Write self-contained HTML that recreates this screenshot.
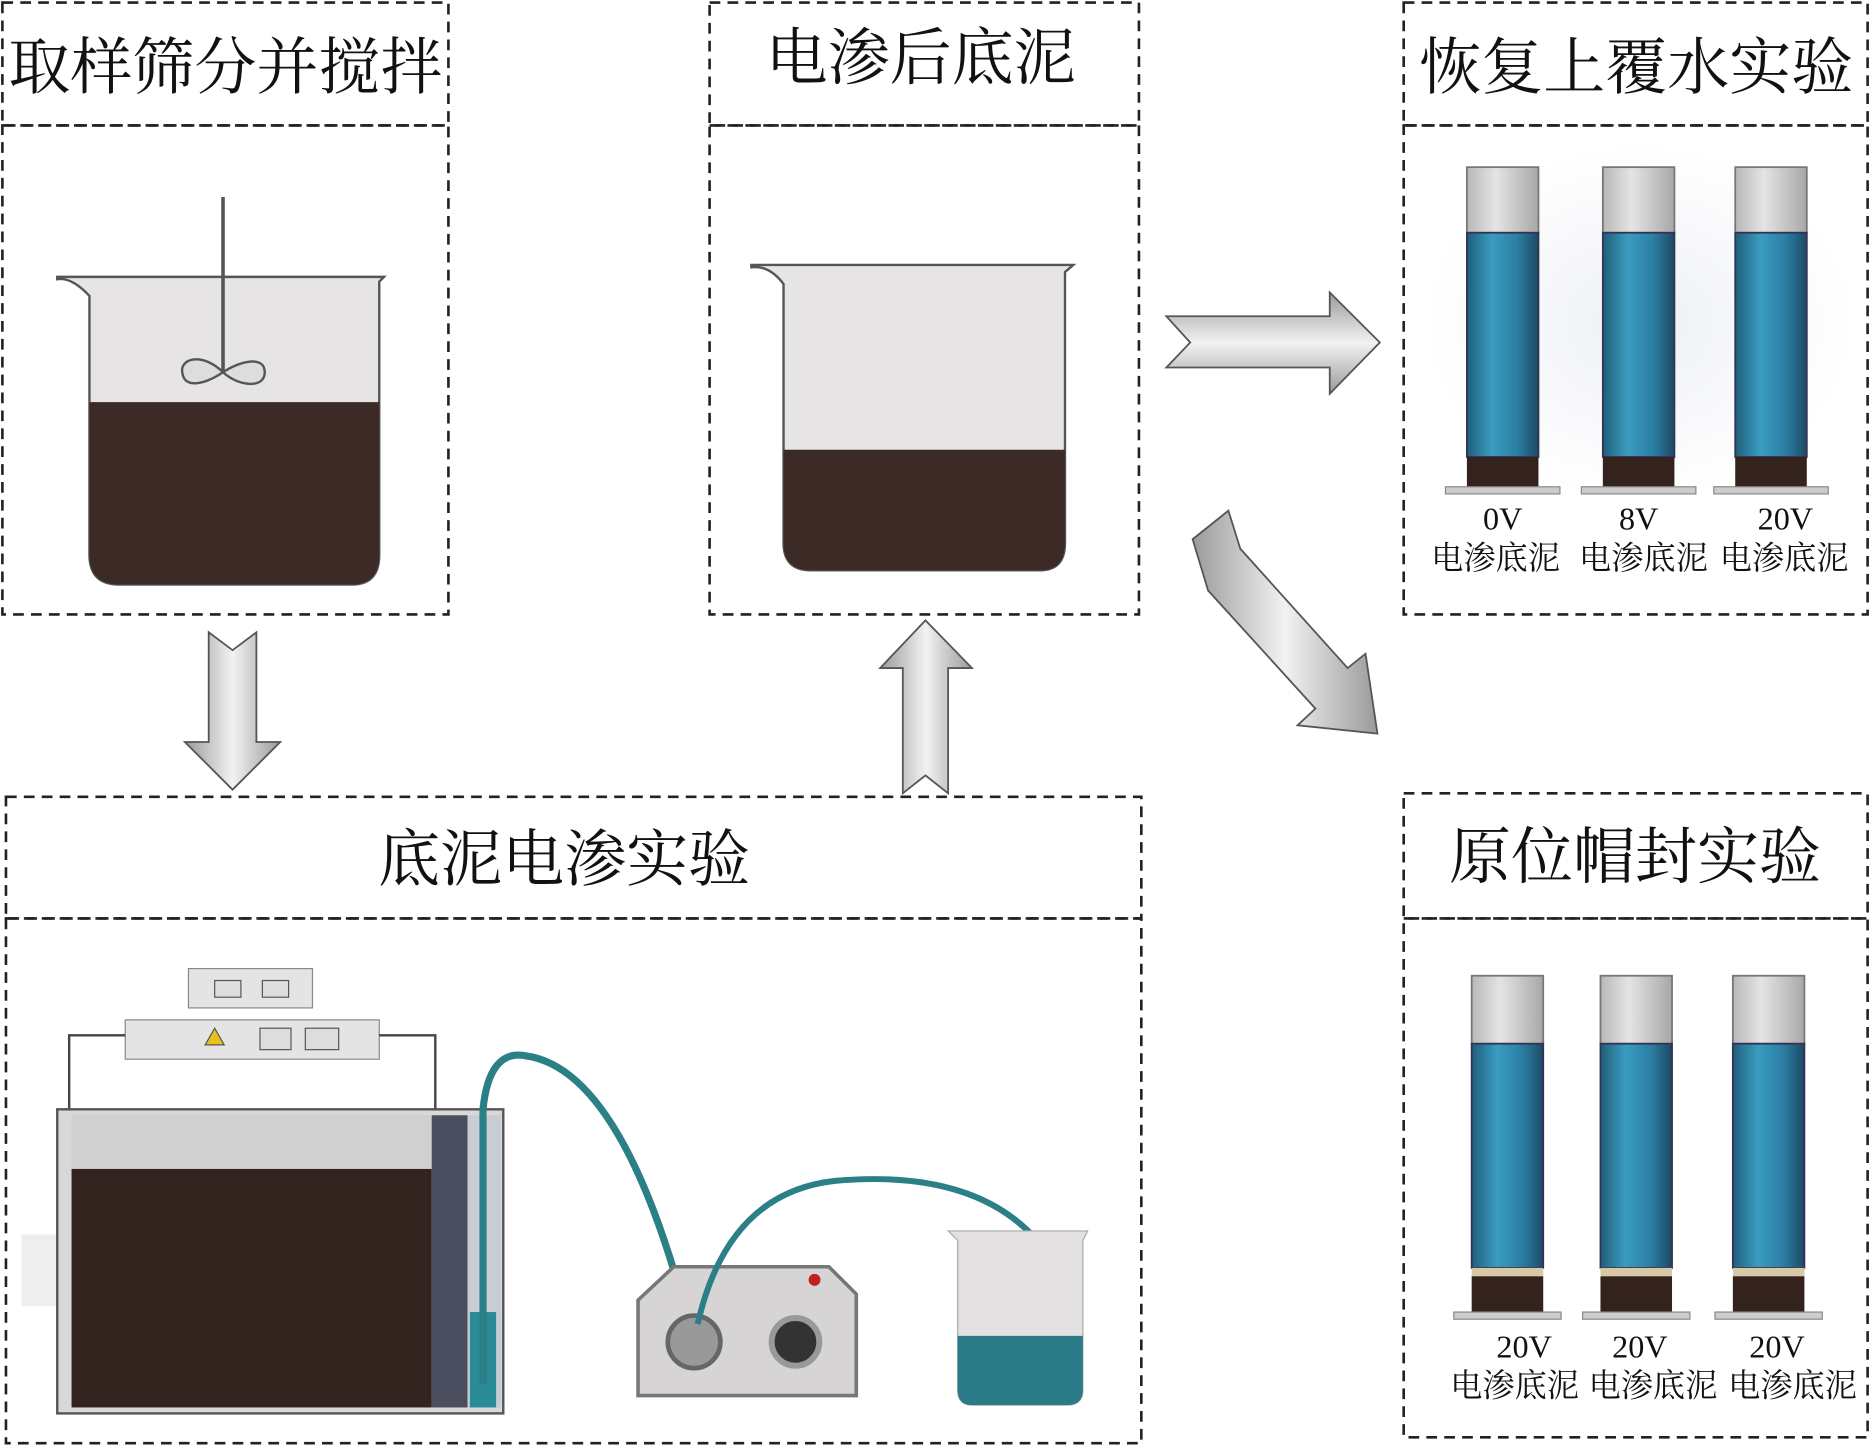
<!DOCTYPE html>
<html><head><meta charset="utf-8"><style>
html,body{margin:0;padding:0;background:#fff;}
svg{display:block;}
text{font-family:"Liberation Serif","Noto Serif CJK SC","Noto Sans CJK SC",serif;fill:#111;}
</style></head><body>
<svg width="1870" height="1447" viewBox="0 0 1568 1213" xmlns="http://www.w3.org/2000/svg">
<defs>
<linearGradient id="ag" x1="0" y1="0" x2="1" y2="0"><stop offset="0" stop-color="#9a9a9a"/><stop offset="0.5" stop-color="#f2f2f2"/><stop offset="1" stop-color="#9a9a9a"/></linearGradient>
<linearGradient id="agv" x1="0" y1="0" x2="0" y2="1"><stop offset="0" stop-color="#9a9a9a"/><stop offset="0.5" stop-color="#f2f2f2"/><stop offset="1" stop-color="#9a9a9a"/></linearGradient>
<linearGradient id="blue" x1="0" y1="0" x2="1" y2="0"><stop offset="0" stop-color="#1f5f7a"/><stop offset="0.35" stop-color="#3a9cc0"/><stop offset="0.7" stop-color="#2b7fa3"/><stop offset="1" stop-color="#1d4a66"/></linearGradient>
<linearGradient id="gray" x1="0" y1="0" x2="1" y2="0"><stop offset="0" stop-color="#b8b8b8"/><stop offset="0.4" stop-color="#e4e4e4"/><stop offset="1" stop-color="#a8a8a8"/></linearGradient>
<radialGradient id="glow" cx="0.5" cy="0.5" r="0.5"><stop offset="0" stop-color="#eef0f5"/><stop offset="1" stop-color="#fff"/></radialGradient>
<g id="tube">
<rect x="-30" y="0" width="60" height="55" fill="url(#gray)" stroke="#777" stroke-width="1.5"/>
<rect x="-30" y="55" width="60" height="188" fill="url(#blue)" stroke="#335" stroke-width="1.5"/>
<rect x="-30" y="243" width="60" height="25" fill="#33231c"/>
<rect x="-48" y="268" width="96" height="6" fill="#ccc" stroke="#888"/>
</g>
<g id="tube2">
<rect x="-30" y="0" width="60" height="57" fill="url(#gray)" stroke="#777" stroke-width="1.5"/>
<rect x="-30" y="57" width="60" height="188" fill="url(#blue)" stroke="#335" stroke-width="1.5"/>
<rect x="-30" y="245" width="60" height="7" fill="#d8c9a6"/>
<rect x="-30" y="252" width="60" height="30" fill="#33231c"/>
<rect x="-45" y="282" width="90" height="6" fill="#ccc" stroke="#888"/>
</g>
</defs>
<g fill="none" stroke="#222" stroke-width="2.2" stroke-dasharray="9,6">
<rect x="2" y="2" width="374" height="103"/><rect x="2" y="105" width="374" height="410"/>
<rect x="595" y="2" width="360" height="103"/><rect x="595" y="105" width="360" height="410"/>
<rect x="1177" y="2" width="389" height="103"/><rect x="1177" y="105" width="389" height="410"/>
<rect x="5" y="668" width="952" height="102"/><rect x="5" y="770" width="952" height="440"/>
<rect x="1177" y="665" width="389" height="105"/><rect x="1177" y="770" width="389" height="435"/>
</g>
<g font-size="52" text-anchor="middle">
<text x="189" y="74">取样筛分并搅拌</text>
<text x="772" y="66">电渗后底泥</text>
<text x="1372" y="74">恢复上覆水实验</text>
<text x="473" y="738">底泥电渗实验</text>
<text x="1371" y="736">原位帽封实验</text>
</g>
<!-- arrows -->
<polygon points="175,530 195,545 215,530 215,622 235,622 195,662 155,622 175,622" fill="url(#ag)" stroke="#555" stroke-width="1.5"/>
<polygon points="776,520 815,560 795,560 795,665 776,650 757,665 757,560 738,560" fill="url(#ag)" stroke="#555" stroke-width="1.5"/>
<polygon points="978,265 1115,265 1115,245 1157,287 1115,330 1115,308 978,308 998,287" fill="url(#agv)" stroke="#555" stroke-width="1.5"/>
<polygon points="1000,452 1030,428 1040,460 1130,560 1145,548 1155,615 1088,608 1103,594 1013,495" fill="url(#ag)" stroke="#555" stroke-width="1.5"/>
<!-- beaker 1 -->
<path d="M48,234 Q60,232 75,248 L75,465 Q75,490 100,490 L295,490 Q318,490 318,465 L318,236 L322,232 L48,232 Z" fill="#e6e4e4" stroke="#555" stroke-width="2"/>
<path d="M75,337 L318,337 L318,465 Q318,490 295,490 L100,490 Q75,490 75,465 Z" fill="#3b2a26"/>
<line x1="187" y1="165" x2="187" y2="312" stroke="#555" stroke-width="3"/>
<path d="M187,312 C170,295 150,300 153,313 C155,326 172,322 187,312 C202,302 222,298 222,312 C222,326 200,324 187,312Z" fill="#ddd" stroke="#555" stroke-width="2"/>
<!-- beaker 2 -->
<path d="M630,224 Q645,222 657,238 L657,455 Q657,478 680,478 L872,478 Q893,478 893,455 L893,228 L900,222 L630,222 Z" fill="#e6e4e4" stroke="#555" stroke-width="2"/>
<path d="M657,377 L893,377 L893,455 Q893,478 872,478 L680,478 Q657,478 657,455 Z" fill="#3b2a26"/>
<!-- tubes top -->
<rect x="1195" y="120" width="360" height="300" fill="url(#glow)"/>
<use href="#tube" x="1260" y="140"/><use href="#tube" x="1374" y="140"/><use href="#tube" x="1485" y="140"/>
<g font-size="27" text-anchor="middle">
<text x="1260" y="444">0V</text><text x="1374" y="444">8V</text><text x="1497" y="444">20V</text>
<text x="1254" y="477">电渗底泥</text><text x="1378" y="477">电渗底泥</text><text x="1496" y="477">电渗底泥</text>
</g>
<!-- tubes bottom -->
<use href="#tube2" x="1264" y="818"/><use href="#tube2" x="1372" y="818"/><use href="#tube2" x="1483" y="818"/>
<g font-size="27" text-anchor="middle">
<text x="1278" y="1138">20V</text><text x="1375" y="1138">20V</text><text x="1490" y="1138">20V</text>
<text x="1270" y="1171">电渗底泥</text><text x="1386" y="1171">电渗底泥</text><text x="1503" y="1171">电渗底泥</text>
</g>
<!-- power supply -->
<rect x="158" y="812" width="104" height="33" fill="#e4e4e4" stroke="#888"/>
<rect x="180" y="822" width="22" height="14" fill="#ddd" stroke="#555"/><rect x="220" y="822" width="22" height="14" fill="#ddd" stroke="#555"/>
<rect x="105" y="855" width="213" height="33" fill="#e4e4e4" stroke="#888"/>
<polygon points="180,862 188,876 172,876" fill="#e8c020" stroke="#555"/>
<rect x="218" y="862" width="26" height="18" fill="#ddd" stroke="#555"/><rect x="256" y="862" width="28" height="18" fill="#ddd" stroke="#555"/>
<polyline points="105,868 58,868 58,932" fill="none" stroke="#444" stroke-width="2"/>
<polyline points="318,868 365,868 365,932" fill="none" stroke="#444" stroke-width="2"/>
<!-- tank -->
<rect x="18" y="1035" width="30" height="60" fill="#eee"/>
<rect x="48" y="930" width="374" height="255" fill="#d8d8d8" stroke="#555" stroke-width="2"/>
<rect x="60" y="935" width="302" height="45" fill="#d0d0d0"/>
<rect x="60" y="980" width="302" height="200" fill="#33231e"/>
<rect x="362" y="935" width="30" height="245" fill="#4a4e5e"/>
<rect x="392" y="935" width="28" height="245" fill="#c8ccd4"/>
<rect x="394" y="1100" width="22" height="80" fill="#2a8a95"/>
<path d="M405,1160 L405,930 Q410,880 440,885 Q520,895 575,1100" fill="none" stroke="#2b7f86" stroke-width="6"/>
<!-- pump -->
<path d="M535,1170 L535,1090 L565,1062 L695,1062 L718,1085 L718,1170 Z" fill="#d6d4d4" stroke="#777" stroke-width="3"/>
<circle cx="582" cy="1125" r="22" fill="#999" stroke="#666" stroke-width="4"/>
<circle cx="667" cy="1125" r="20" fill="#333" stroke="#999" stroke-width="5"/>
<circle cx="683" cy="1073" r="5" fill="#c02020"/>
<path d="M585,1110 Q610,1000 700,990 Q870,975 905,1110" fill="none" stroke="#2b7f86" stroke-width="5"/>
<!-- beaker 3 -->
<path d="M795,1032 L912,1032 L908,1040 L908,1165 Q908,1178 895,1178 L815,1178 Q803,1178 803,1165 L803,1040 Z" fill="#e2e0e0" stroke="#aaa"/>
<path d="M803,1120 L908,1120 L908,1165 Q908,1178 895,1178 L815,1178 Q803,1178 803,1165 Z" fill="#2a7b87"/>
</svg>
</body></html>
